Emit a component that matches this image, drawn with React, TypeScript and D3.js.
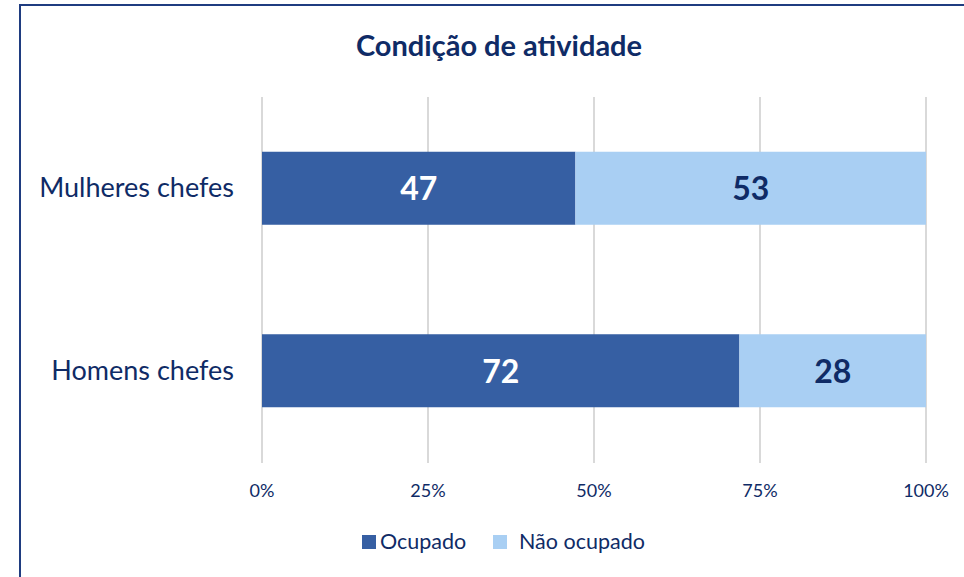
import { useEffect, useRef } from 'react';
import * as d3 from 'd3';

const categories = ['Mulheres chefes', 'Homens chefes'];
const ocupado = [47.2, 71.9];
const naoOcupado = [52.8, 28.1];
const seriesNames = ['Ocupado', 'Não ocupado'];
const tickValues = [0, 25, 50, 75, 100];

const W = 964;
const H = 577;
const navy = '#0f2b66';
const darkBlue = '#365fa3';
const lightBlue = '#a9cff3';
const font = 'Lato, "Open Sans", sans-serif';

export default function App() {
    const svgRef = useRef<SVGSVGElement>(null);

    useEffect(() => {
        if (!svgRef.current) return;
        const svg = d3.select(svgRef.current);
        svg.selectAll('*').remove();

        // frame
        svg.append('rect')
            .attr('x', 20).attr('y', 5).attr('width', W + 10).attr('height', H + 10)
            .attr('fill', 'white').attr('stroke', '#1f3c80').attr('stroke-width', 2);

        // title
        svg.append('text')
            .attr('x', 499).attr('y', 56)
            .attr('text-anchor', 'middle').attr('font-family', font)
            .attr('font-size', 29).attr('font-weight', 'bold').attr('fill', navy)
            .text('Condição de atividade');

        const x = d3.scaleLinear().domain([0, 100]).range([262, 926]);
        const y = d3.scaleBand<string>().domain(categories).range([97, 462])
            .paddingInner(0.6).paddingOuter(0.3);

        // gridlines
        svg.selectAll('.grid')
            .data(tickValues)
            .join('line')
            .attr('class', 'grid')
            .attr('x1', d => x(d)).attr('x2', d => x(d))
            .attr('y1', 97).attr('y2', 463)
            .attr('stroke', '#d9d9d9').attr('stroke-width', 2);

        // tick labels
        svg.selectAll('.tick-lbl')
            .data(tickValues)
            .join('text')
            .attr('class', 'tick-lbl')
            .attr('x', d => x(d)).attr('y', 497)
            .attr('text-anchor', 'middle').attr('font-family', font)
            .attr('font-size', 18).attr('fill', navy)
            .text(d => `${d}%`);

        const rows = categories.map((c, i) => ({ cat: c, a: ocupado[i], b: naoOcupado[i] }));

        // Ocupado
        svg.selectAll('.bar-a')
            .data(rows)
            .join('rect')
            .attr('class', 'bar-a')
            .attr('x', x(0)).attr('y', d => y(d.cat)!)
            .attr('width', d => x(d.a) - x(0)).attr('height', y.bandwidth())
            .attr('fill', darkBlue);

        // Não ocupado
        svg.selectAll('.bar-b')
            .data(rows)
            .join('rect')
            .attr('class', 'bar-b')
            .attr('x', d => x(d.a)).attr('y', d => y(d.cat)!)
            .attr('width', d => x(d.a + d.b) - x(d.a)).attr('height', y.bandwidth())
            .attr('fill', lightBlue);

        // value labels
        svg.selectAll('.lbl-a')
            .data(rows)
            .join('text')
            .attr('class', 'lbl-a')
            .attr('x', d => (x(0) + x(d.a)) / 2)
            .attr('y', d => y(d.cat)! + y.bandwidth() / 2 + 12)
            .attr('text-anchor', 'middle').attr('font-family', font)
            .attr('font-size', 32).attr('font-weight', 'bold').attr('fill', 'white')
            .text(d => Math.round(d.a));
        svg.selectAll('.lbl-b')
            .data(rows)
            .join('text')
            .attr('class', 'lbl-b')
            .attr('x', d => (x(d.a) + x(d.a + d.b)) / 2)
            .attr('y', d => y(d.cat)! + y.bandwidth() / 2 + 12)
            .attr('text-anchor', 'middle').attr('font-family', font)
            .attr('font-size', 32).attr('font-weight', 'bold').attr('fill', navy)
            .text(d => Math.round(d.b));

        // category labels
        svg.selectAll('.cat-lbl')
            .data(categories)
            .join('text')
            .attr('class', 'cat-lbl')
            .attr('x', 234).attr('y', d => y(d)! + y.bandwidth() / 2 + 9)
            .attr('text-anchor', 'end').attr('font-family', font)
            .attr('font-size', 27).attr('fill', navy)
            .text(d => d);

        // legend
        const leg = svg.append('g').attr('transform', 'translate(362,535)');
        leg.append('rect').attr('width', 14).attr('height', 14).attr('fill', darkBlue);
        leg.append('text').attr('x', 18).attr('y', 14).attr('font-family', font)
            .attr('font-size', 21.5).attr('fill', navy).text(seriesNames[0]);
        leg.append('rect').attr('x', 131).attr('width', 14).attr('height', 14).attr('fill', lightBlue);
        leg.append('text').attr('x', 157).attr('y', 14).attr('font-family', font)
            .attr('font-size', 21.5).attr('fill', navy).text(seriesNames[1]);
    }, []);

    return <svg ref={svgRef} width={W} height={H} style={{ position: 'absolute', left: 0, top: 0 }} />;
}
